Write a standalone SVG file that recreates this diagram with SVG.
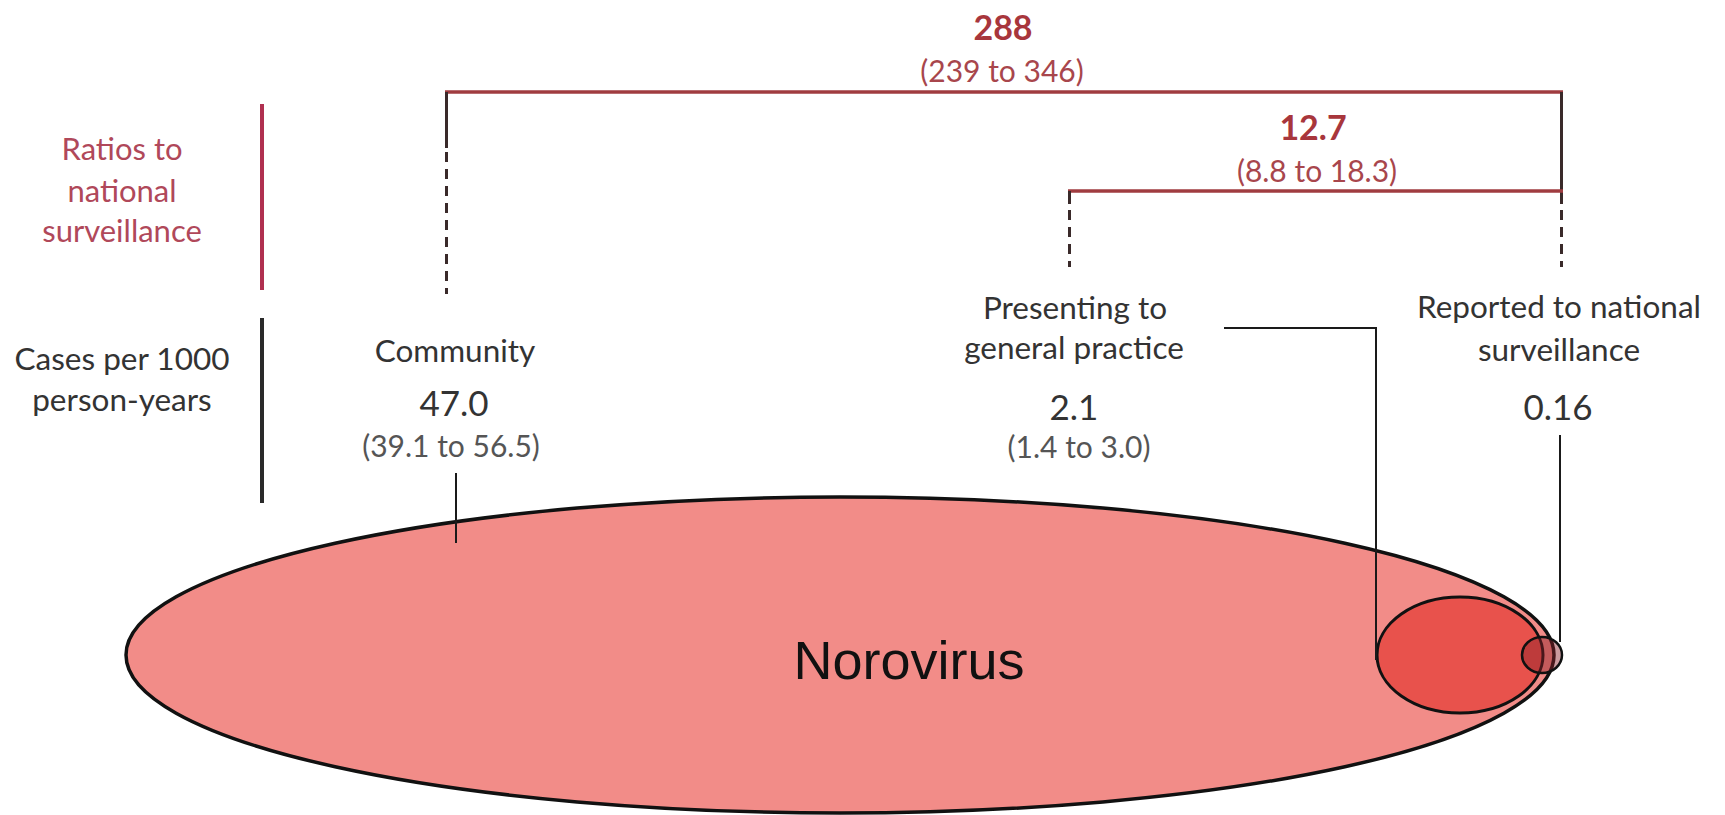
<svg xmlns="http://www.w3.org/2000/svg" width="1725" height="815" viewBox="0 0 1725 815">
<style>
.lbl{font-family:Lato,"Open Sans","Liberation Sans",sans-serif;font-size:31.5px;fill:#333;text-anchor:middle}
.num{font-family:Lato,"Open Sans","Liberation Sans",sans-serif;font-size:35px;fill:#333;text-anchor:middle}
.rng{font-family:Lato,"Open Sans","Liberation Sans",sans-serif;font-size:30px;fill:#555;text-anchor:middle}
.ratio{font-family:Lato,"Open Sans","Liberation Sans",sans-serif;font-size:34px;font-weight:bold;fill:#a8363c;text-anchor:middle}
.rrng{font-family:Lato,"Open Sans","Liberation Sans",sans-serif;font-size:30px;fill:#a8464c;text-anchor:middle}
.side{font-family:Lato,"Open Sans","Liberation Sans",sans-serif;font-size:31px;fill:#b0485a;text-anchor:middle}
.hbar{stroke:#a03c40;stroke-width:3.5;fill:none}
.vbar{stroke:#3a2a2a;stroke-width:3;fill:none}
.dash{stroke:#3a2a2a;stroke-width:3;fill:none;stroke-dasharray:10 7}
.conn{stroke:#1a1a1a;stroke-width:2;fill:none}
</style>
<rect width="1725" height="815" fill="#ffffff"/>
<g id="row-labels">
<line x1="262" y1="104" x2="262" y2="290" stroke="#b03050" stroke-width="4"/>
<line x1="262" y1="318" x2="262" y2="503" stroke="#2a2a2a" stroke-width="4"/>
<text class="side" x="122" y="160">Ratios to</text>
<text class="side" x="122" y="202">national</text>
<text class="side" x="122" y="242">surveillance</text>
<text class="lbl" x="122" y="370">Cases per 1000</text>
<text class="lbl" x="122" y="411">person-years</text>
</g>
<g id="norovirus">
<ellipse cx="840" cy="655" rx="714" ry="158" fill="#f28c88" stroke="#111" stroke-width="3.5"/>
<text x="909" y="679" font-family="'Liberation Sans',Arial,sans-serif" font-size="54" fill="#111" text-anchor="middle">Norovirus</text>
</g>
<g id="general-practice-ellipse">
<ellipse cx="1460" cy="655" rx="83" ry="58" fill="#e8524c" stroke="#111" stroke-width="3"/>
</g>
<g id="surveillance-circle">
<ellipse cx="1542" cy="655" rx="20" ry="18" fill="#8c1e28" fill-opacity="0.45" stroke="#111" stroke-width="2.5"/>
</g>
<g id="community">
<text class="lbl" x="455" y="362">Community</text>
<text class="num" x="454" y="416">47.0</text>
<text class="rng" x="451" y="457">(39.1 to 56.5)</text>
</g>
<g id="general-practice">
<text class="lbl" x="1075" y="319">Presenting to</text>
<text class="lbl" x="1074" y="359">general practice</text>
<text class="num" x="1074" y="420">2.1</text>
<text class="rng" x="1079" y="458">(1.4 to 3.0)</text>
</g>
<g id="national-surveillance">
<text class="lbl" x="1559" y="318">Reported to national</text>
<text class="lbl" x="1559" y="361">surveillance</text>
<text class="num" x="1558" y="420">0.16</text>
</g>
<g id="ratio-288">
<text class="ratio" x="1003" y="40">288</text>
<text class="rrng" x="1002" y="82">(239 to 346)</text>
</g>
<g id="ratio-12-7">
<text class="ratio" x="1313" y="140">12.7</text>
<text class="rrng" x="1317" y="182">(8.8 to 18.3)</text>
</g>
<g id="connectors">
<line class="hbar" x1="445" y1="92" x2="1563" y2="92"/>
<line class="vbar" x1="446.5" y1="92" x2="446.5" y2="148"/>
<line class="dash" x1="446.5" y1="152" x2="446.5" y2="294"/>
<line class="vbar" x1="1561.5" y1="92" x2="1561.5" y2="204"/>
<line class="dash" x1="1561.5" y1="210" x2="1561.5" y2="267"/>
<line class="hbar" x1="1068" y1="191" x2="1563" y2="191"/>
<line class="vbar" x1="1069.5" y1="191" x2="1069.5" y2="204"/>
<line class="dash" x1="1069.5" y1="210" x2="1069.5" y2="267"/>
<polyline class="conn" points="1224,328 1376,328 1376,660"/>
<line class="conn" x1="1560" y1="435" x2="1560" y2="642"/>
<line class="conn" x1="456" y1="473" x2="456" y2="543"/>
</g>
</svg>
